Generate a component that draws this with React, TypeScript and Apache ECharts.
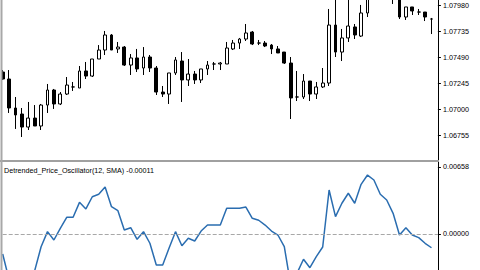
import React, { useEffect, useRef } from "react";
import * as echarts from "echarts";

// OHLC values (68 bars)
const opens = [
  1.07353, 1.07287, 1.07013, 1.06956, 1.06833, 1.06918, 1.06843, 1.07041, 1.07183, 1.07051,
  1.07145, 1.07212, 1.07202, 1.07363, 1.07315, 1.07476, 1.07561, 1.07703, 1.07571, 1.07589,
  1.07419, 1.07486, 1.07391, 1.07495, 1.07391, 1.07164, 1.07145, 1.07344, 1.07457, 1.07278,
  1.07334, 1.07278, 1.07382, 1.07429, 1.07429, 1.07429, 1.07571, 1.07627, 1.07665, 1.07731,
  1.07627, 1.07627, 1.07608, 1.07571, 1.07542, 1.07438, 1.07117, 1.07117, 1.07268, 1.07145,
  1.07212, 1.07249, 1.07797, 1.07542, 1.07675, 1.07779, 1.07693, 1.07911, 1.08070, 1.08150,
  1.08110, 1.08180, 1.08100, 1.07873, 1.07968, 1.07920, 1.07920, 1.07854,
];
const closes = [
  1.07287, 1.07013, 1.06947, 1.06833, 1.06918, 1.06843, 1.07041, 1.07183, 1.07051, 1.07145,
  1.07230, 1.07212, 1.07363, 1.07315, 1.07476, 1.07561, 1.07703, 1.07561, 1.07589, 1.07419,
  1.07486, 1.07382, 1.07495, 1.07391, 1.07164, 1.07145, 1.07344, 1.07467, 1.07278, 1.07334,
  1.07278, 1.07382, 1.07419, 1.07429, 1.07438, 1.07580, 1.07627, 1.07665, 1.07722, 1.07618,
  1.07627, 1.07599, 1.07571, 1.07533, 1.07438, 1.07108, 1.07117, 1.07268, 1.07145, 1.07212,
  1.07249, 1.07797, 1.07542, 1.07675, 1.07788, 1.07703, 1.07911, 1.08070, 1.08150, 1.08110,
  1.08180, 1.08120, 1.07873, 1.07968, 1.07930, 1.07920, 1.07873, 1.07854,
];
const lows = [
  1.07278, 1.06966, 1.06815, 1.06739, 1.06805, 1.06843, 1.06805, 1.06966, 1.07004, 1.07041,
  1.07136, 1.07174, 1.07202, 1.07287, 1.07306, 1.07476, 1.07514, 1.07561, 1.07533, 1.07410,
  1.07325, 1.07353, 1.07325, 1.07353, 1.07136, 1.07117, 1.07051, 1.07325, 1.07070, 1.07221,
  1.07240, 1.07249, 1.07325, 1.07372, 1.07372, 1.07429, 1.07561, 1.07571, 1.07646, 1.07608,
  1.07608, 1.07589, 1.07523, 1.07533, 1.07429, 1.06909, 1.07079, 1.07098, 1.07079, 1.07098,
  1.07202, 1.07221, 1.07495, 1.07457, 1.07637, 1.07665, 1.07684, 1.07873, 1.08050, 1.08060,
  1.08090, 1.07996, 1.07854, 1.07845, 1.07892, 1.07892, 1.07835, 1.07712,
];
const highs = [
  1.07372, 1.07372, 1.07117, 1.07013, 1.07070, 1.07041, 1.07051, 1.07240, 1.07193, 1.07164,
  1.07306, 1.07259, 1.07410, 1.07448, 1.07476, 1.07608, 1.07741, 1.07712, 1.07637, 1.07599,
  1.07523, 1.07571, 1.07589, 1.07514, 1.07410, 1.07221, 1.07344, 1.07495, 1.07542, 1.07476,
  1.07363, 1.07382, 1.07457, 1.07448, 1.07448, 1.07637, 1.07656, 1.07675, 1.07807, 1.07741,
  1.07656, 1.07646, 1.07618, 1.07599, 1.07542, 1.07495, 1.07363, 1.07334, 1.07268, 1.07259,
  1.07391, 1.07949, 1.08080, 1.07760, 1.08060, 1.07807, 1.07987, 1.08120, 1.08190, 1.08200,
  1.08230, 1.08210, 1.08140, 1.07968, 1.07968, 1.07949, 1.07920, 1.07864,
];
// Detrended Price Oscillator values per bar
const dpo = [
  -0.00196, -0.0045, -0.006, -0.0066, -0.0058, -0.0036, -0.00125, 0.00023, -0.00059, 0.00056,
  0.00164, 0.00164, 0.00311, 0.00246, 0.00366, 0.0039, 0.00462, 0.00268, 0.00229, 0.00039,
  0.00062, -0.00052, 0.00023, -0.00091, -0.00304, -0.00304, -0.00137, 0.00023, -0.00115, -0.00042,
  -0.00069, 0.00029, 0.00088, 0.00088, 0.00088, 0.00252, 0.00252, 0.00252, 0.00265, 0.00154,
  0.00135, 0.00088, 0.00029, -0.0001, -0.00125, -0.00501, -0.00383, -0.00248, -0.00331, -0.00223,
  -0.00128, 0.00432, 0.0017, 0.00302, 0.004, 0.00302, 0.00488, 0.00579, 0.0053, 0.0039,
  0.00334, 0.00203, -0.0001, 0.00062, -0.0001, -0.00036, -0.00091, -0.00135,
];
const priceTicks = [1.06755, 1.07, 1.07245, 1.0749, 1.07735, 1.0798];
const dpoTicks = [0, 0.00658];
const indicatorTitle = "Detrended_Price_Oscillator(12, SMA) -0.00011";

// one extra empty slot at the right (chart shift)
const categories = opens.map((_, i) => String(i + 1)).concat([""]);

const FONT = '"Liberation Sans", Arial, sans-serif';

export default function App() {
  const ref = useRef<HTMLDivElement>(null);
  useEffect(() => {
    if (!ref.current) return;
    const chart = echarts.init(ref.current, undefined, { renderer: "svg" });
    const candles = opens.map((o, i) => [o, closes[i], lows[i], highs[i]]);
    const labelStyle = {
      fontSize: 7.2,
      fontFamily: FONT,
      color: "#000",
      margin: 5,
      formatter: (v: number) => v.toFixed(5),
    };
    chart.setOption({
      animation: false,
      backgroundColor: "#ffffff",
      grid: [
        { left: 2.7, right: 42.1, top: 0, height: 160 },
        { left: 2.7, right: 42.1, top: 162, bottom: 0 },
      ],
      xAxis: [
        { type: "category", gridIndex: 0, data: categories, boundaryGap: false, show: false },
        { type: "category", gridIndex: 1, data: categories, boundaryGap: false, show: false },
      ],
      yAxis: [
        {
          type: "value",
          gridIndex: 0,
          position: "right",
          min: 1.065215,
          max: 1.080338,
          splitLine: { show: false },
          axisLine: { show: true, lineStyle: { color: "#000", width: 1 } },
          axisTick: { show: true, length: 3, customValues: priceTicks, lineStyle: { color: "#000" } },
          axisLabel: { ...labelStyle, customValues: priceTicks },
        },
        {
          type: "value",
          gridIndex: 1,
          position: "right",
          min: -0.003536,
          max: 0.007071,
          splitLine: { show: false },
          axisLine: { show: true, lineStyle: { color: "#000", width: 1 } },
          axisTick: { show: true, length: 3, customValues: dpoTicks, lineStyle: { color: "#000" } },
          axisLabel: { ...labelStyle, customValues: dpoTicks },
        },
      ],
      series: [
        {
          type: "candlestick",
          xAxisIndex: 0,
          yAxisIndex: 0,
          data: candles,
          barWidth: 3.2,
          clip: true,
          itemStyle: {
            color: "#ffffff",
            color0: "#000000",
            borderColor: "#000000",
            borderColor0: "#000000",
            borderWidth: 1,
          },
        },
        {
          type: "line",
          xAxisIndex: 1,
          yAxisIndex: 1,
          data: dpo,
          showSymbol: false,
          symbol: "none",
          clip: true,
          lineStyle: { color: "#2a6db0", width: 1.5 },
          markLine: {
            silent: true,
            symbol: "none",
            label: { show: false },
            lineStyle: { color: "#a8a8a8", type: "dashed", width: 1 },
            data: [{ yAxis: 0 }],
          },
        },
      ],
      graphic: [
        {
          type: "rect",
          shape: { x: 0, y: 160, width: 438, height: 2 },
          style: { fill: "#a0a0a0" },
          z: 10,
        },
        {
          type: "rect",
          shape: { x: 0.5, y: 0, width: 2, height: 270 },
          style: { fill: "#a8a8a8" },
          z: 10,
        },
        {
          type: "text",
          x: 4,
          y: 170,
          z: 10,
          style: {
            text: indicatorTitle,
            fontSize: 7.2,
            fontFamily: FONT,
            fill: "#000",
            verticalAlign: "middle",
          },
        },
      ],
    });
    return () => chart.dispose();
  }, []);
  return (
    <div
      ref={ref}
      style={{ position: "fixed", left: 0, top: 0, width: 480, height: 270 }}
    />
  );
}
